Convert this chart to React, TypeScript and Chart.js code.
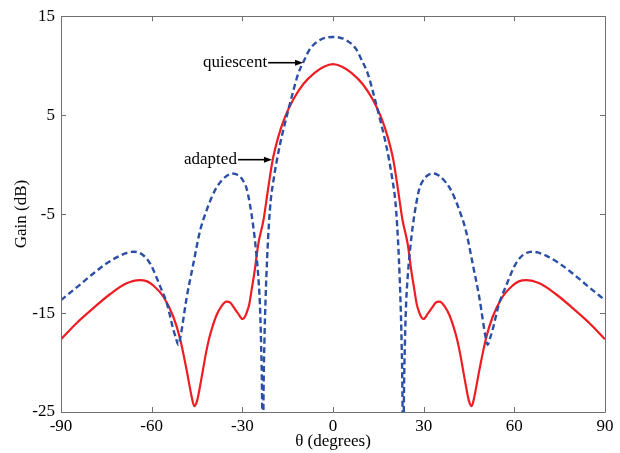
import React, { useEffect, useRef } from 'react';
import { Chart, registerables } from 'chart.js';

Chart.register(...registerables);

// Quiescent pattern (blue dashed)
const quiescentTheta = [
  -90, -84, -79.3, -75, -70.5, -68, -66, -63, -60.5, -57.2, -55, -52.8, -52, -51.2, -50.6, -48.4,
  -46.2, -44, -41.8, -40, -38.5, -36.5, -35, -33.3, -31.5, -30, -28.6, -27.5, -26.4, -25.5, -24.8,
  -24.2, -23.8, -23.45, -23.2, -23.0, -22.7, -22.3, -21.8, -21.2, -20.6, -19.7, -18.6, -17.5, -16.2,
  -14.8, -13.1, -11.5, -9.6, -7.6, -4.3, -2, 0, 2, 4.3, 7.6, 9.6, 11.5, 13.1, 14.8, 16.2, 17.5, 18.6,
  19.7, 20.6, 21.2, 21.8, 22.3, 22.7, 23.0, 23.2, 23.45, 23.8, 24.2, 24.8, 25.5, 26.4, 27.5, 28.6, 30,
  31.5, 33.3, 35, 36.5, 38.5, 40, 41.8, 44, 46.2, 48.4, 50.6, 51.2, 52, 52.8, 55, 57.2, 60.5, 63, 66,
  68, 70.5, 75, 79.3, 84, 90,
];
const quiescentGain = [
  -13.7, -12.2, -11.0, -10.0, -9.2, -8.9, -8.8, -9.1, -10.0, -12.3, -14.0, -16.7, -17.5, -18.2, -17.6,
  -13.4, -10.0, -6.7, -4.6, -3.2, -2.3, -1.5, -1.1, -0.9, -1.05, -1.5, -2.4, -4.0, -6.2, -8.6, -11.0,
  -14.0, -18.0, -24.0, -35.0, -24.0, -18.0, -13.5, -9.5, -6.0, -3.6, -1.6, 0.4, 2.1, 3.8,
  5.5, 7.5, 9.2, 10.5, 11.7, 12.6, 12.85, 12.9, 12.85, 12.6, 11.7, 10.5, 9.2, 7.5, 5.5, 3.8, 2.1, 0.4,
  -1.6, -3.6, -6.0, -9.5, -13.5, -18.0, -24.0, -35.0, -24.0, -18.0, -14.0, -11.0, -8.6, -6.2, -4.0, -2.4, -1.5,
  -1.05, -0.9, -1.1, -1.5, -2.3, -3.2, -4.6, -6.7, -10.0, -13.4, -17.6, -18.2, -17.5, -16.7, -14.0, -12.3, -10.0, -9.1, -8.8,
  -8.9, -9.2, -10.0, -11.0, -12.2, -13.7,
];

// Adapted pattern (red solid)
const adaptedTheta = [
  -90, -84.8, -79.3, -73.8, -68.3, -63.9, -61.5, -59.5, -56.1, -52.8, -50.6, -48.4, -46.8, -45.9,
  -45.0, -44.0, -43.0, -42.0, -41.0, -40.0, -38.5, -37.0, -35.2, -34.0, -33.0, -31.5, -29.9, -29.2,
  -28.5, -27.7, -26.9, -26.0, -24.7, -23.0, -21.4, -20.0, -18.1, -15.9, -13.1, -9.8, -6.0, -3, 0, 3,
  6.0, 9.8, 13.1, 15.9, 18.1, 20.0, 21.4, 23.0, 24.7, 26.0, 26.9, 27.7, 28.5, 29.2, 29.9, 31.5, 33.0,
  34.0, 35.2, 37.0, 38.5, 40.0, 41.0, 42.0, 43.0, 44.0, 45.0, 45.9, 46.8, 48.4, 50.6, 52.8, 56.1, 59.5,
  61.5, 63.9, 68.3, 73.8, 79.3, 84.8, 90,
];
const adaptedGain = [
  -17.65, -16.0, -14.5, -13.1, -12.0, -11.67, -11.8, -12.2, -13.35, -15.4, -17.6, -20.8, -23.4, -24.4,
  -23.9, -22.4, -20.7, -19.0, -17.6, -16.5, -15.2, -14.35, -13.85, -13.95, -14.35, -15.0, -15.6, -15.4,
  -14.9, -14.1, -12.6, -10.9, -8.0, -5.6, -2.3, 0.4, 2.8, 4.8, 6.6, 8.15, 9.3, 9.9, 10.16, 9.9,
  9.3, 8.15, 6.6, 4.8, 2.8, 0.4, -2.3, -5.6, -8.0, -10.9, -12.6, -14.1, -14.9, -15.4, -15.6, -15.0, -14.35,
  -13.95, -13.85, -14.35, -15.2, -16.5, -17.6, -19.0, -20.7, -22.4, -23.9, -24.4, -23.4, -20.8, -17.6, -15.4, -13.35, -12.2,
  -11.8, -11.67, -12.0, -13.1, -14.5, -16.0, -17.65,
];

const xTickValues = [-90, -60, -30, 0, 30, 60, 90];
const yTickValues = [-25, -15, -5, 5, 15];

const xTitle = 'θ (degrees)';
const yTitle = 'Gain (dB)';

// Annotations: label, text end (data coords), arrow tip (data coords)
const annotationLabels = ['quiescent', 'adapted'];
const annotationTips = [
  { x: -9.9, y: 10.3 },
  { x: -20.2, y: 0.5 },
];
const annotationTextEnds = [
  { x: -21.8, y: 10.3 },
  { x: -31.8, y: 0.5 },
];

const FONT = '"Liberation Serif", "Times New Roman", serif';

const framePlugin = {
  id: 'framePlugin',
  afterDraw(chart: any) {
    const { ctx, chartArea } = chart;
    const xs = chart.scales.x;
    const ys = chart.scales.y;
    const { left, right, top, bottom } = chartArea;
    ctx.save();
    // frame
    ctx.strokeStyle = '#707070';
    ctx.lineWidth = 1;
    ctx.beginPath();
    ctx.rect(Math.round(left) + 0.5, Math.round(top) + 0.5, Math.round(right - left), Math.round(bottom - top));
    ctx.stroke();
    // inward ticks
    const tl = 5;
    ctx.beginPath();
    xTickValues.forEach((v) => {
      const px = Math.round(xs.getPixelForValue(v)) + 0.5;
      ctx.moveTo(px, bottom);
      ctx.lineTo(px, bottom - tl);
      ctx.moveTo(px, top);
      ctx.lineTo(px, top + tl);
    });
    yTickValues.forEach((v) => {
      const py = Math.round(ys.getPixelForValue(v)) + 0.5;
      ctx.moveTo(left, py);
      ctx.lineTo(left + tl, py);
      ctx.moveTo(right, py);
      ctx.lineTo(right - tl, py);
    });
    ctx.stroke();

    // axis titles
    ctx.fillStyle = '#000';
    ctx.font = `17px ${FONT}`;
    ctx.textAlign = 'center';
    ctx.textBaseline = 'middle';
    ctx.fillText(xTitle, (left + right) / 2, 442);
    ctx.save();
    ctx.translate(22, (top + bottom) / 2);
    ctx.rotate(-Math.PI / 2);
    ctx.fillText(yTitle, 0, 0);
    ctx.restore();

    // annotations
    annotationLabels.forEach((label, i) => {
      const tip = annotationTips[i];
      const te = annotationTextEnds[i];
      const tx = xs.getPixelForValue(tip.x);
      const ty = ys.getPixelForValue(tip.y);
      const ex = xs.getPixelForValue(te.x);
      const ey = ys.getPixelForValue(te.y);
      ctx.fillStyle = '#000';
      ctx.textAlign = 'right';
      ctx.textBaseline = 'middle';
      ctx.font = `17px ${FONT}`;
      ctx.fillText(label, ex, ey);
      ctx.strokeStyle = '#000';
      ctx.lineWidth = 1.6;
      ctx.beginPath();
      ctx.moveTo(ex + 1, ty);
      ctx.lineTo(tx - 6, ty);
      ctx.stroke();
      ctx.beginPath();
      ctx.moveTo(tx, ty);
      ctx.lineTo(tx - 8, ty - 3);
      ctx.lineTo(tx - 8, ty + 3);
      ctx.closePath();
      ctx.fill();
    });
    ctx.restore();
  },
};

export default function App() {
  const canvasRef = useRef<HTMLCanvasElement | null>(null);

  useEffect(() => {
    const canvas = canvasRef.current;
    if (!canvas) return;
    const chart = new Chart(canvas, {
      type: 'line',
      data: {
        datasets: [
          {
            label: 'quiescent',
            data: quiescentTheta.map((t, i) => ({ x: t, y: quiescentGain[i] })),
            borderColor: '#2c4fa6',
            borderWidth: 2.4,
            borderDash: [6, 3.5],
            pointRadius: 0,
            cubicInterpolationMode: 'monotone',
            fill: false,
          },
          {
            label: 'adapted',
            data: adaptedTheta.map((t, i) => ({ x: t, y: adaptedGain[i] })),
            borderColor: '#ee1d23',
            borderWidth: 2.2,
            pointRadius: 0,
            cubicInterpolationMode: 'monotone',
            fill: false,
          },
        ],
      },
      options: {
        responsive: false,
        animation: false,
        devicePixelRatio: 1,
        layout: { padding: { top: 15, right: 15, left: 0, bottom: 0 } },
        plugins: {
          legend: { display: false },
          tooltip: { enabled: false },
        },
        scales: {
          x: {
            type: 'linear',
            min: -90,
            max: 90,
            afterFit: (s: any) => {
              s.height = 41;
            },
            afterBuildTicks: (s: any) => {
              s.ticks = xTickValues.map((v) => ({ value: v }));
            },
            grid: { display: false, drawTicks: false },
            border: { display: false },
            ticks: {
              color: '#000',
              font: { family: FONT, size: 17 },
              padding: 4,
              maxRotation: 0,
              autoSkip: false,
            },
          },
          y: {
            type: 'linear',
            min: -25,
            max: 15,
            afterFit: (s: any) => {
              s.width = 61;
            },
            afterBuildTicks: (s: any) => {
              s.ticks = yTickValues.map((v) => ({ value: v }));
            },
            grid: { display: false, drawTicks: false },
            border: { display: false },
            ticks: {
              color: '#000',
              font: { family: FONT, size: 17 },
              padding: 6,
              autoSkip: false,
            },
          },
        },
      },
      plugins: [framePlugin],
    } as any);
    return () => chart.destroy();
  }, []);

  return (
    <div style={{ position: 'fixed', left: 0, top: 0, width: 620, height: 453, background: '#fff' }}>
      <canvas ref={canvasRef} width={620} height={453} />
    </div>
  );
}
